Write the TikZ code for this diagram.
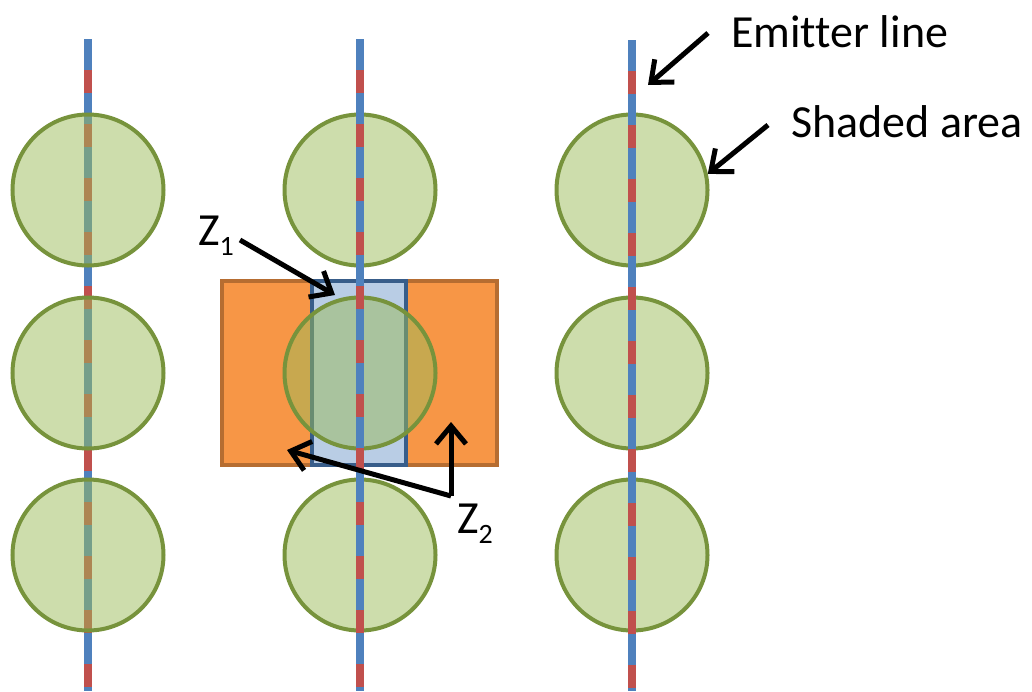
\documentclass[tikz,border=0pt]{standalone}
\usepackage{fontspec}
\setmainfont{Carlito}[Ligatures=NoCommon]
\usetikzlibrary{positioning,arrows.meta}

\definecolor{lineblue}{HTML}{4F81BD}
\definecolor{linered}{HTML}{C0504D}
\definecolor{areagreen}{HTML}{9BBB59}
\definecolor{areaedge}{HTML}{77933C}
\definecolor{zoneorange}{HTML}{F79646}
\definecolor{zoneoredge}{HTML}{B66D31}
\definecolor{zoneblue}{HTML}{B9CDE5}
\definecolor{zoneblueedge}{HTML}{385D8A}

\begin{document}
\begin{tikzpicture}[x=1pt, y=-1pt,
      emitter/.style={line width=8pt, lineblue},
      emitdash/.style={line width=8pt, linered, dash pattern=on 23pt off 31pt, dash phase=23pt},
      shaded/.style={circle, draw=areaedge, line width=4pt, fill=areagreen, fill opacity=0.5, minimum size=151pt, inner sep=0pt},
      lab/.style={anchor=base west, inner sep=0pt, font=\fontsize{46}{46}\selectfont},
      pointer/.style={line width=5pt, -{Straight Barb[length=18pt, width=30pt]}}]
      \useasboundingbox (0,0) rectangle (1032,691);
      % emitter line under the left column
      \draw[emitter] (88,39) -- (88,691);
      \draw[emitdash] (88,39) -- (88,691);
      % zones
      \draw[zoneoredge, fill=zoneorange, line width=3.5pt] (222,281) rectangle (497,465);
      \draw[zoneblueedge, fill=zoneblue, line width=3.5pt] (312,281) rectangle (406,465);
      % shaded areas
      \node[shaded] (c11) at (88,190) {};
      \node[shaded] (c12) at (88,373) {};
      \node[shaded] (c13) at (88,555) {};
      \node[shaded] (c21) at (360,190) {};
      \node[shaded] (c22) at (360,373) {};
      \node[shaded] (c23) at (360,555) {};
      \node[shaded] (c31) at (632,190) {};
      \node[shaded] (c32) at (632,373) {};
      \node[shaded] (c33) at (632,555) {};
      % emitter lines on top
      \draw[emitter] (360,39) -- (360,691);
      \draw[emitdash] (360,39) -- (360,691);
      \draw[emitter] (632,40) -- (632,691);
      \draw[emitdash] (632,40) -- (632,691);
      % labels
      \node[lab] (emlab) at (731,47) {Emitter line};
      \node[lab] (shlab) at (791,137) {Shaded area};
      \node[lab] (z1lab) at (198,245) {Z\raisebox{-10pt}{\fontsize{28}{28}\selectfont 1}};
      \node[lab] (z2lab) at (457,533) {Z\raisebox{-10pt}{\fontsize{28}{28}\selectfont 2}};
      \coordinate (emtail) at (708,33);
      \coordinate (emtip) at (648,85);
      \coordinate (shtail) at (768,125);
      \coordinate (z1tail) at (240,240);
      \coordinate (z1tip) at (335,295);
      \coordinate (z2joint) at (451,496);
      \coordinate (z2left) at (287,450);
      \coordinate (z2up) at (451,422);
      % pointers
      \draw[pointer] (emtail) -- (emtip);
      \draw[pointer] (shtail) -- (c31.12);
      \draw[pointer] (z1tail) -- (z1tip);
      \draw[pointer] (z2joint) -- (z2left);
      \draw[pointer] (z2joint) -- (z2up);
    \end{tikzpicture}
\end{document}
